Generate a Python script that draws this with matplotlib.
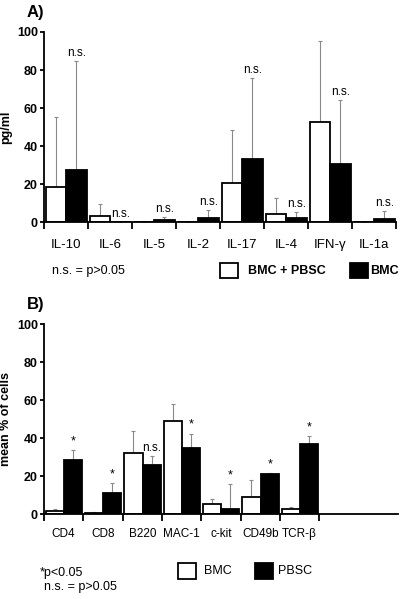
import numpy as np
import matplotlib.pyplot as plt
from matplotlib.patches import Rectangle

plt.rcParams['font.family'] = ['Liberation Sans', 'DejaVu Sans']

# ---- data, panel A (cytokines, pg/ml) ----
cyto_labels = ['IL-10', 'IL-6', 'IL-5', 'IL-2', 'IL-17', 'IL-4', 'IFN-γ', 'IL-1a']
cyto_combo = [18.4, 3.3, 0.3, 0.3, 20.5, 4.4, 52.5, 0.0]          # BMC + PBSC
cyto_combo_err = [55.2, 9.5, 0.3, 0.3, 48.7, 13.0, 95.4, 0.0]     # upper end of error bar
cyto_bmc = [27.7, 0.0, 1.4, 2.3, 33.1, 2.3, 30.6, 1.8]            # BMC
cyto_bmc_err = [85.0, 0.0, 2.7, 6.3, 75.7, 5.3, 64.3, 5.8]
cyto_sig = ['n.s.'] * 8

# ---- data, panel B (cell markers, mean % of cells) ----
cell_labels = ['CD4', 'CD8', 'B220', 'MAC-1', 'c-kit', 'CD49b', 'TCR-β']
cell_bmc = [1.6, 0.6, 32.1, 49.3, 5.3, 9.1, 2.8]
cell_bmc_err = [2.6, 1.1, 43.9, 58.1, 8.2, 17.9, 3.7]
cell_pbsc = [28.4, 11.2, 26.1, 35.1, 3.0, 21.4, 37.0]
cell_pbsc_err = [33.9, 16.5, 30.7, 42.5, 15.8, 21.8, 41.0]
cell_sig = ['*', '*', 'n.s.', '*', '*', '*', '*']

W, H = 404, 599
fig = plt.figure(figsize=(W / 100, H / 100), dpi=100)

BW = 0.465
ERR_KW = dict(fmt='none', ecolor='#8a8a8a', elinewidth=0.8, capsize=1.3, capthick=0.8)


def panel(ax, labels, v1, e1, v2, e2, sig, nslots, ylabel, width_px, xfs, xpad):
    x = np.arange(len(labels))
    x1 = x + 0.04 + BW / 2
    x2 = x + 0.505 + BW / 2
    ax.bar(x1, v1, BW, color='white', edgecolor='black', linewidth=1.3, zorder=2)
    ax.bar(x2, v2, BW, color='black', edgecolor='black', linewidth=1.3, zorder=2)
    v1, e1, v2, e2 = map(np.asarray, (v1, e1, v2, e2))
    ax.errorbar(x1, v1, yerr=[np.zeros_like(v1), e1 - v1], zorder=1, **ERR_KW)
    ax.errorbar(x2, v2, yerr=[np.zeros_like(v2), e2 - v2], zorder=1, **ERR_KW)
    for xi, top, s in zip(x2, np.maximum(e2, v2), sig):
        if s == '*':
            ax.text(xi, top + 1.5, s, ha='center', va='bottom', fontsize=9)
        else:
            ax.text(xi, top + 1.0, s, ha='center', va='bottom', fontsize=8.5)
    ax.set_xlim(0, nslots)
    ax.set_ylim(0, 100)
    ax.set_xticks(np.arange(len(labels) + 1))
    ax.set_xticklabels([])
    ax.set_xticks(x + 0.5, minor=True)
    ax.set_xticklabels(labels, minor=True, fontsize=xfs)
    ax.tick_params(axis='x', which='major', length=5, width=1.3, direction='out')
    ax.tick_params(axis='x', which='minor', length=0, pad=xpad)
    ax.set_yticks(np.arange(0, 101, 20))
    ax.set_yticklabels([str(v) for v in range(0, 101, 20)], fontweight='bold', fontsize=9)
    ax.tick_params(axis='y', length=3, width=1.3, pad=1.5)
    for s in ('top', 'right'):
        ax.spines[s].set_visible(False)
    for s in ('left', 'bottom'):
        ax.spines[s].set_linewidth(1.3)
    ax.set_ylabel(ylabel, fontweight='bold', fontsize=9)
    ax.yaxis.set_label_coords((12 - 44) / width_px, 0.5)


axA = fig.add_axes([44 / W, 1 - 222.3 / H, (396 - 44) / W, (222.3 - 32) / H])
panel(axA, cyto_labels, cyto_combo, cyto_combo_err, cyto_bmc, cyto_bmc_err,
      cyto_sig, 8, 'pg/ml', 396 - 44, 9.5, 12)

axB = fig.add_axes([44 / W, 1 - 514.3 / H, (398 - 44) / W, (514.3 - 324.3) / H])
panel(axB, cell_labels, cell_bmc, cell_bmc_err, cell_pbsc, cell_pbsc_err,
      cell_sig, 9, 'mean % of cells', 398 - 44, 8.5, 10)

# panel letters
fig.text(27 / W, 1 - 13 / H, 'A)', fontsize=12, fontweight='bold', va='center')
fig.text(27 / W, 1 - 304 / H, 'B)', fontsize=12, fontweight='bold', va='center')


def key(x0, y0, w, h, color):
    fig.add_artist(Rectangle((x0 / W, 1 - (y0 + h) / H), w / W, h / H,
                             facecolor=color, edgecolor='black', linewidth=1.3,
                             transform=fig.transFigure))


# legend A
fig.text(52 / W, 1 - 271 / H, 'n.s. = p>0.05', fontsize=9, va='center')
key(220, 263, 18, 15, 'white')
fig.text(248 / W, 1 - 271 / H, 'BMC + PBSC', fontsize=9, fontweight='bold', va='center')
key(350, 263, 18, 15, 'black')
fig.text(370 / W, 1 - 271 / H, 'BMC', fontsize=9, fontweight='bold', va='center')

# legend B
fig.text(40 / W, 1 - 573 / H, '*p<0.05', fontsize=9, va='center')
fig.text(44 / W, 1 - 587 / H, 'n.s. = p>0.05', fontsize=9, va='center')
key(178, 563, 18, 16, 'white')
fig.text(204 / W, 1 - 571 / H, 'BMC', fontsize=9, va='center')
key(255, 563, 18, 16, 'black')
fig.text(278 / W, 1 - 571 / H, 'PBSC', fontsize=9, va='center')

fig.savefig('out.png', dpi=100)
